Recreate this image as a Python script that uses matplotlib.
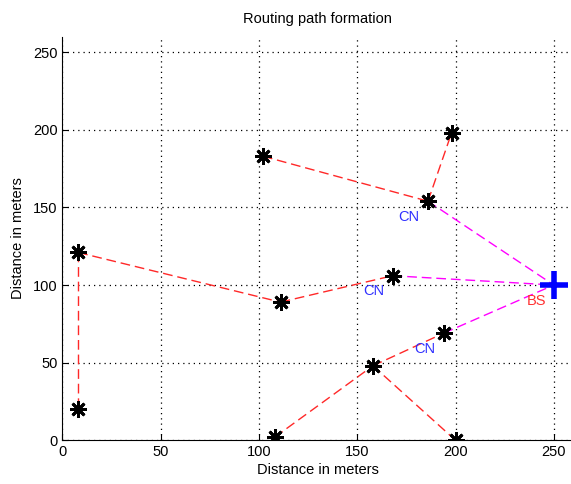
import matplotlib
matplotlib.use('Agg')
import matplotlib.pyplot as plt

# node coordinates (meters)
node_x = [8, 8, 111, 168, 102, 186, 198, 194, 158, 108, 200]
node_y = [121, 20, 89, 106, 183, 154, 198, 69, 48, 2, 0]
names = ['A', 'B', 'C', 'D', 'E', 'F', 'G', 'H', 'I', 'J', 'K']

bs_x, bs_y = 250, 100

# cluster links (red) and CN -> BS links (magenta)
red_links = [('A', 'B'), ('A', 'C'), ('C', 'D'), ('E', 'F'), ('F', 'G'),
             ('J', 'I'), ('I', 'K'), ('I', 'H')]
cn_nodes = ['F', 'D', 'H']

plt.rcParams['font.family'] = ['Liberation Sans Narrow', 'Liberation Sans', 'DejaVu Sans']

pos = {n: (x, y) for n, x, y in zip(names, node_x, node_y)}

fig = plt.figure(figsize=(5.71, 4.84), dpi=100)
ax = fig.add_axes([0.1093, 0.0903, 0.895, 0.834])

for a, b in red_links:
    ax.plot([pos[a][0], pos[b][0]], [pos[a][1], pos[b][1]], color='#ff2828',
            lw=1, dashes=(7, 3.5), zorder=2)
for n in cn_nodes:
    ax.plot([pos[n][0], bs_x], [pos[n][1], bs_y], color='#ff00ff',
            lw=1, dashes=(7, 3.5), zorder=2)
    ax.text(pos[n][0] - 15, pos[n][1] - 10, 'CN', color='#3030ff',
            fontsize=10.5, va='center', ha='left')

ax.plot(node_x, node_y, linestyle='none', marker=(8, 2, 0), markersize=12,
        markeredgewidth=2, color='k', zorder=3)
ax.plot([bs_x], [bs_y], linestyle='none', marker='+', markersize=20,
        markeredgewidth=4, color='#0000ff', zorder=4)
ax.text(bs_x - 14, bs_y - 10, 'BS', color='#ff3030', fontsize=10.5,
        va='center', ha='left')

ax.set_xlim(0, 260)
ax.set_ylim(0, 260)
ax.set_xticks([0, 50, 100, 150, 200, 250])
ax.set_yticks([0, 50, 100, 150, 200, 250])
ax.tick_params(direction='in', labelsize=10.5, length=4)
ax.grid(True, linestyle=(0, (1, 3.2)), color='k', lw=0.9)
ax.spines['top'].set_visible(False)
ax.spines['right'].set_visible(False)

ax.set_title('Routing path formation', fontsize=10.5, pad=10)
ax.set_xlabel('Distance in meters', fontsize=10.5, labelpad=3)
ax.set_ylabel('Distance in meters', fontsize=10.5, labelpad=6)

fig.savefig('out.png', dpi=100)
